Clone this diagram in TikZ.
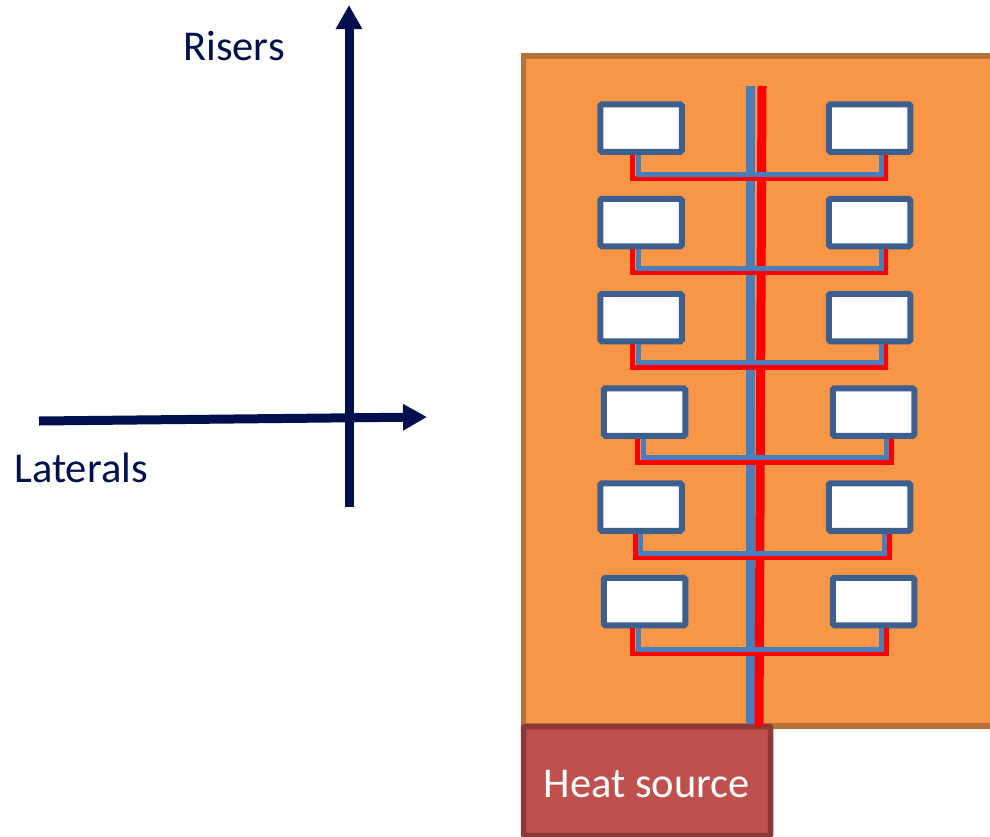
\documentclass[tikz,border=0pt]{standalone}
\usepackage{fontspec}
\setmainfont{Carlito}
\usetikzlibrary{arrows.meta}
\definecolor{axisblue}{HTML}{00104F}
\definecolor{wallorange}{HTML}{F79646}
\definecolor{walledge}{HTML}{B5723A}
\definecolor{heatred}{HTML}{C0504D}
\definecolor{heatedge}{HTML}{8C3836}
\definecolor{boxedge}{HTML}{3C5F8E}
\definecolor{pipeblue}{HTML}{4A7EBB}
\tikzset{
    axisline/.style={draw=axisblue, line width=9pt, -{Triangle[length=24pt,width=25pt]}},
    axislabel/.style={text=axisblue, font=\fontsize{42.5}{46}\selectfont},
    roombox/.style={draw=boxedge, fill=white, line width=6pt, rounded corners=1.5pt,
        minimum width=81.5pt, minimum height=47.5pt, inner sep=0pt},
    riser/.style={line width=9pt},
    redpipe/.style={draw=red, line width=5pt},
    bluepipe/.style={draw=pipeblue, line width=5pt},
}
\begin{document}
\begin{tikzpicture}[x=1pt, y=-1pt]
    \useasboundingbox (0,0) rectangle (990,836);

    % building and heat source
    \draw[draw=walledge, fill=wallorange, line width=5.5pt] (523.5,56) rectangle (1010,726);
    \node[draw=heatedge, fill=heatred, line width=5.5pt, rounded corners=1pt, text=white,
        minimum width=247pt, minimum height=109pt, inner sep=0pt, text height=33pt, text depth=0pt,
        font=\fontsize{42.5}{46}\selectfont] (heat) at (647,781) {Heat source};

    % main risers
    \coordinate (bluetop) at (750,86);
    \coordinate (redtop) at (762,86);
    \coordinate (redbottom) at (759,726);
    \draw[riser, pipeblue] (bluetop) -- (bluetop |- heat.north);
    \draw[riser, red] (redtop) -- (redbottom);

    % rooms and laterals
    \foreach \lx/\rx/\ty/\rl/\bl/\rr/\br/\ry/\by [count=\p] in {
        641/869.5/128/632/638/885/881/178.7/174.3,
        641/869.5/222.5/632/638/885/881/272.7/268,
        641/869.5/317.5/632/638/885/881/367/362.5,
        644.5/873.5/412/637.7/643.7/891/886.7/462.3/457.7,
        641/869.5/507/635/640.7/889/884/557.7/553.3,
        644.5/873.5/601.5/632.3/638.3/886/881.7/653.3/649} {
        \node[roombox] (L\p) at (\lx,\ty) {};
        \node[roombox] (R\p) at (\rx,\ty) {};
        \draw[redpipe] (\rl,0 |- L\p.south) -- (\rl,\ry) -- (\rr,\ry) -- (\rr,0 |- R\p.south);
        \draw[bluepipe] (\bl,0 |- L\p.south) -- (\bl,\by) -- (\br,\by) -- (\br,0 |- R\p.south);
    };

    % axes
    \node[axislabel] (risers) at (234,46) {Risers};
    \node[axislabel] (laterals) at (81,468) {Laterals};
    \coordinate (risestart) at (349,507);
    \coordinate (riseend) at (349,5);
    \coordinate (latstart) at (39,421);
    \coordinate (latend) at (427,417);
    \draw[axisline] (risestart) -- (riseend);
    \draw[axisline] (latstart) -- (latend);
\end{tikzpicture}
\end{document}
